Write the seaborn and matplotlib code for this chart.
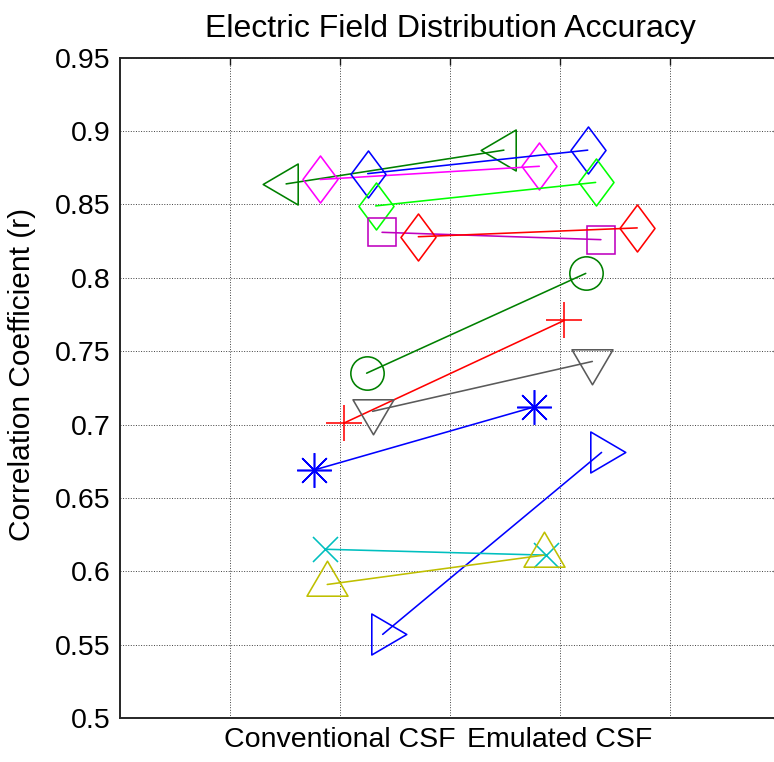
import numpy as np
import pandas as pd
import matplotlib
matplotlib.use('Agg')
import matplotlib.pyplot as plt
from matplotlib.path import Path
import seaborn as sns

# one pair of points per subject: conventional CSF vs emulated CSF
subjects = ['S1', 'S2', 'S3', 'S4', 'S5', 'S6', 'S7',
            'S8', 'S9', 'S10', 'S11', 'S12', 'S13']
conv_x = [0.755, 0.909, 1.126, 1.162, 1.191, 1.356, 1.121,
          1.018, 1.148, 0.882, 1.194, 0.932, 0.942]
conv_r = [0.864, 0.867, 0.871, 0.849, 0.831, 0.828, 0.735,
          0.701, 0.709, 0.669, 0.557, 0.615, 0.591]
emul_x = [1.745, 1.906, 2.126, 2.162, 2.186, 2.351, 2.117,
          2.020, 2.147, 1.883, 2.189, 1.936, 1.927]
emul_r = [0.887, 0.876, 0.887, 0.865, 0.826, 0.834, 0.803,
          0.771, 0.743, 0.712, 0.681, 0.611, 0.611]

tick_pos = [0.5, 1, 1.5, 2, 2.5]
tick_lab = ['', 'Conventional CSF', '', 'Emulated CSF', '']


def shape(pts):
    # closed outline marker, sized so that 1 unit = 1 px at 100 dpi
    pts = np.array(pts, dtype=float)
    verts = np.vstack([pts, pts[:1]])
    codes = [Path.MOVETO] + [Path.LINETO] * (len(pts) - 1) + [Path.CLOSEPOLY]
    return Path(verts, codes), 2 * np.abs(pts).max() * 0.72


diamond = shape([(0, 23.5), (17.5, 0), (0, -23.5), (-17.5, 0)])
tri_l = shape([(-23.3, 0), (11.7, 20.5), (11.7, -20.5)])
tri_r = shape([(23.3, 0), (-11.7, 20.5), (-11.7, -20.5)])
tri_d = shape([(0, -23.3), (20.5, 11.7), (-20.5, 11.7)])
tri_u = shape([(0, 23.3), (20.5, -11.7), (-20.5, -11.7)])

colors = ['#008000', '#FF00FF', '#0000FF', '#00FF00', '#BF00BF', '#FF0000', '#008000',
          '#FF0000', '#5A5A5A', '#0000FF', '#0000FF', '#00BFBF', '#BFBF00']
markers = [tri_l, diamond, diamond, diamond, ('s', 20), diamond, ('o', 24),
           ('+', 26), tri_d, ((8, 2, 0), 25), tri_r, ('x', 18), tri_u]

df = pd.DataFrame({
    'subject': subjects * 2,
    'x': conv_x + emul_x,
    'r': conv_r + emul_r,
})

sns.set_style('white')
plt.rcParams['font.family'] = ['Liberation Sans', 'DejaVu Sans']

fig = plt.figure(figsize=(7.74, 7.62), dpi=100)
ax = fig.add_axes([120 / 774, 44 / 762, 660 / 774, 660.3 / 762])

for name, c, (m, ms) in zip(subjects, colors, markers):
    d = df[df['subject'] == name]
    sns.lineplot(data=d, x='x', y='r', ax=ax, color=c, linewidth=1.15,
                 marker=m, markersize=ms, markerfacecolor='none',
                 markeredgecolor=c, markeredgewidth=1.15,
                 sort=False, estimator=None)

ax.set_xlim(0, 3)
ax.set_ylim(0.5, 0.95)
ax.set_xticks(tick_pos)
ax.set_xticklabels(tick_lab)
ax.set_yticks(np.arange(0.5, 0.951, 0.05))
ax.set_yticklabels(['0.5', '0.55', '0.6', '0.65', '0.7', '0.75',
                    '0.8', '0.85', '0.9', '0.95'])
ax.tick_params(axis='both', direction='in', length=5, width=1,
               top=True, right=True, labelsize=20.5, colors='#1a1a1a',
               labelcolor='black')
ax.tick_params(axis='y', pad=7)
ax.tick_params(axis='x', pad=6.5)

ax.grid(True, color='#404040', linestyle=':', linewidth=0.7)
ax.set_axisbelow(True)
for sp in ax.spines.values():
    sp.set_color('#262626')
    sp.set_linewidth(1.4)
    sp.set_visible(True)

ax.set_xlabel('')
ax.set_ylabel('Correlation Coefficient (r)', fontsize=21.5, color='black')
ax.yaxis.set_label_coords(-0.127, 0.521)
ax.set_title('Electric Field Distribution Accuracy', fontsize=23, pad=15,
             color='black')

fig.savefig('out.png', dpi=100)
